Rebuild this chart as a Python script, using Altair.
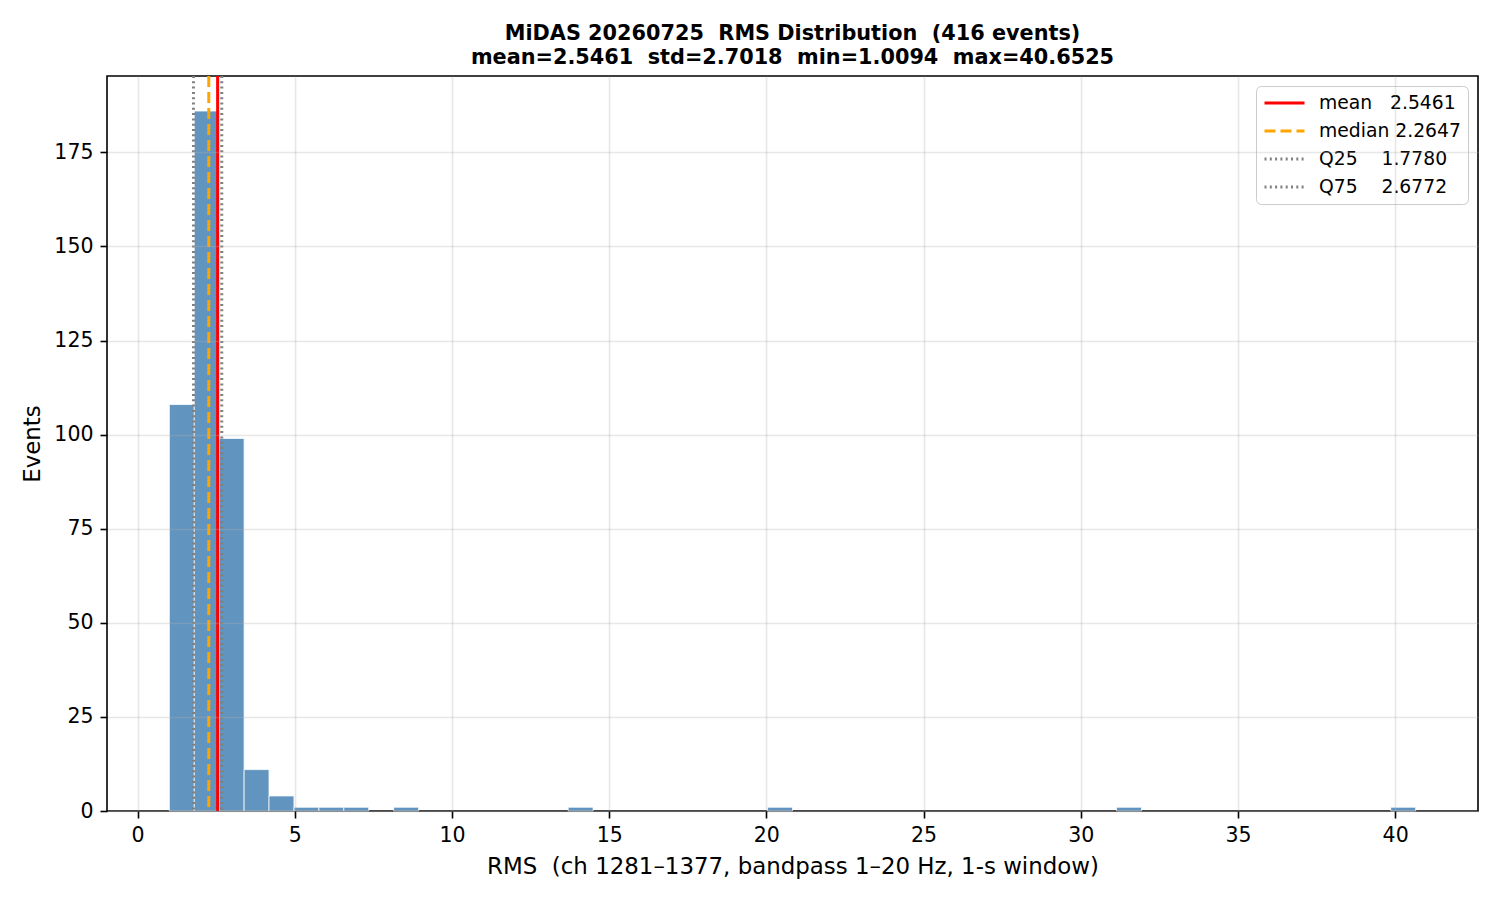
import altair as alt
import pandas as pd
import numpy as np

# ---- data ----
RMS_MIN = 1.0094
RMS_MAX = 40.6525
N_BINS = 50
bin_counts = [108, 186, 99, 11, 4, 1, 1, 1, 0, 1,
              0, 0, 0, 0, 0, 0, 1, 0, 0, 0,
              0, 0, 0, 0, 1, 0, 0, 0, 0, 0,
              0, 0, 0, 0, 0, 0, 0, 0, 1, 0,
              0, 0, 0, 0, 0, 0, 0, 0, 0, 1]

stat_names = ["mean", "median", "Q25", "Q75"]
stat_values = [2.5461, 2.2647, 1.7780, 2.6772]
NB = "\u00a0"
stat_labels = [
    "mean" + NB * 3 + "2.5461",
    "median" + NB + "2.2647",
    "Q25" + NB * 4 + "1.7780",
    "Q75" + NB * 4 + "2.6772",
]
stat_colors = ["#ff0000", "#ffa500", "#808080", "#808080"]
stat_dashes = [[1, 0], [11, 5], [2, 3.3], [2, 3.3]]
stat_widths = [3, 3, 2, 2]

x_ticks = list(range(0, 41, 5))
y_ticks = list(range(0, 176, 25))

title_lines = [
    "MiDAS 20260725" + NB + " RMS Distribution" + NB + " (416 events)",
    "mean=2.5461" + NB + " std=2.7018" + NB + " min=1.0094" + NB + " max=40.6525",
]
x_title = "RMS" + NB + " (ch 1281\u20131377, bandpass 1\u201320 Hz, 1-s window)"
y_title = "Events"

# ---- tables ----
edges = np.linspace(RMS_MIN, RMS_MAX, N_BINS + 1)
hist = pd.DataFrame({"start": edges[:-1], "end": edges[1:], "count": bin_counts})
hist = hist[hist["count"] > 0]

stats = pd.DataFrame({"name": stat_names, "value": stat_values, "label": stat_labels})

span = RMS_MAX - RMS_MIN
x_dom = [RMS_MIN - 0.05 * span, RMS_MAX + 0.05 * span]
y_dom = [0, max(bin_counts) * 1.05]

FONT = "DejaVu Sans"

x_scale = alt.Scale(domain=x_dom, nice=False, zero=False, padding=0)
y_scale = alt.Scale(domain=y_dom, nice=False, padding=0)

bars = alt.Chart(hist).mark_rect(
    color="steelblue", opacity=0.85, stroke="white", strokeWidth=0.8, strokeOpacity=1
).encode(
    x=alt.X("start:Q", scale=x_scale,
            axis=alt.Axis(values=x_ticks, title=x_title, titlePadding=10, grid=True, zindex=1)),
    x2="end:Q",
    y=alt.Y("count:Q", scale=y_scale,
            axis=alt.Axis(values=y_ticks, title=y_title, titlePadding=9, grid=True, zindex=1)),
    y2=alt.datum(0),
)

legend = alt.Legend(
    title=None, orient="top-right", offset=10, symbolType="stroke", symbolSize=1600,
    clipHeight=20, labelFont=FONT, labelFontSize=18.75, labelColor="black", labelLimit=400,
    padding=7, rowPadding=8, labelOffset=13,
    fillColor="rgba(255,255,255,0.8)", strokeColor="#cccccc", cornerRadius=5,
)

rules = alt.Chart(stats).mark_rule().encode(
    x=alt.X("value:Q", scale=x_scale),
    color=alt.Color("label:N", scale=alt.Scale(domain=stat_labels, range=stat_colors), legend=legend),
    strokeDash=alt.StrokeDash("label:N", scale=alt.Scale(domain=stat_labels, range=stat_dashes), legend=legend),
    strokeWidth=alt.StrokeWidth("label:N", scale=alt.Scale(domain=stat_labels, range=stat_widths), legend=legend),
)

chart = alt.layer(bars, rules).properties(
    width=1371,
    height=735,
    title=alt.TitleParams(
        text=title_lines, anchor="middle", font=FONT, fontSize=20.8, fontWeight="bold",
        color="black", lineHeight=24, offset=6,
    ),
    autosize=alt.AutoSizeParams(type="none"),
    padding={"left": 99, "top": 68, "right": 14, "bottom": 70},
).configure_view(
    stroke="black", strokeWidth=1.6
).configure_axis(
    domain=False, labelFont=FONT, labelFontSize=20.5, labelColor="black",
    titleFont=FONT, titleFontSize=22.9, titleFontWeight="normal", titleColor="black",
    tickColor="black", tickWidth=1.6, tickSize=7, labelPadding=7,
    gridColor="#b0b0b0", gridOpacity=0.3, gridWidth=1.6,
)

chart.save("out.html", embed_options={"renderer": "svg", "actions": False})
